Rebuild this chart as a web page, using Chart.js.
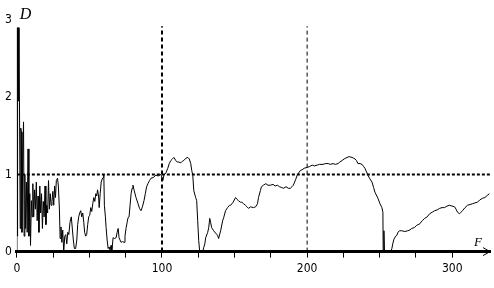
<!DOCTYPE html>
<html>
<head>
<meta charset="utf-8">
<script src="https://cdn.jsdelivr.net/npm/chart.js@4"></script>
<style>
  html, body { margin: 0; padding: 0; background: #fff; }
  #wrap { width: 494px; height: 288px; }
</style>
</head>
<body>
<div id="wrap"><canvas id="dChart" width="494" height="288"></canvas></div>
<script>
// D(F) curve as [F, D] pairs, split into stretches
const noisyStart = [
  [0,0],[0.05,2.9],[0.35,0.2],[0.5,2.9],[0.8,2.9],[1.1,1.95],[1.5,2.9],[2.0,2.9],
  [2.3,0.3],[2.7,1.6],[3.1,1.55],[3.5,0.25],[4.0,1.2],[4.6,1.68],[5.0,0.2],[5.5,1.0],
  [6.0,0.3],[6.6,0.9],[7.1,0.25],[7.7,1.33],[8.3,0.2],[8.9,0.75],[9.4,0.08],[10.0,0.66],
  [10.5,0.45],[11.0,0.88],[11.6,0.45],[12.2,0.8],[12.8,0.55],[13.4,0.9],[14.0,0.4],[14.6,0.72],
  [15.2,0.25],[15.8,0.85],[16.4,0.5],[17.0,0.75],[17.6,0.3],[18.2,0.65],[18.8,0.45],[19.4,0.85],
  [20.0,0.35],[20.6,0.6],[21.2,0.5],[21.8,0.92],[22.4,0.55],[23.0,0.75],[23.6,0.6],[24.2,0.65],
  [24.8,0.78],[25.4,0.6],[26.0,0.85],[26.6,0.7],[27.2,0.92],[28.0,0.95],[28.6,0.85],[29.3,0.55],
  [29.8,0.17]
];
const lowBumps = [
  [30.4,0.32],[31.0,0.12],[31.6,0.28],[32.3,0.0],[33.0,0.2],[33.7,0.22],[34.4,0.1],[35.1,0.25],
  [35.8,0.22],[36.6,0.38],[37.5,0.45],[38.3,0.28],[38.9,0.15],[39.6,0.04],[40.5,0.04],[41.3,0.15],
  [41.9,0.35],[42.6,0.45],[43.3,0.5],[44.0,0.53],[44.7,0.45],[45.4,0.5],[46.1,0.38],[46.7,0.25],
  [47.4,0.2],[48.1,0.22],[48.8,0.35],[49.5,0.45],[50.2,0.47],[50.9,0.57],[51.6,0.52],[52.3,0.62],
  [53.0,0.7],[53.7,0.65],[54.4,0.75],[55.0,0.72],[55.6,0.8],[56.3,0.72],[56.7,0.57],[57.4,0.75],
  [58.1,0.9],[58.8,0.94],[59.5,0.96],[59.9,1.0],[60.3,0.6],[61.0,0.45],[61.5,0.31],[62.2,0.15],
  [62.9,0.04],[63.6,0.06],[64.2,0.02],[64.9,0.08],[65.4,0.0]
];
const firstRise = [
  [66.3,0.18],[67.3,0.17],[68.4,0.18],[69.1,0.25],[69.8,0.3],[70.4,0.18],[71.1,0.15],[71.8,0.12],
  [72.8,0.13],[73.9,0.12],[74.5,0.2],[75.2,0.3],[76.0,0.38],[76.6,0.44],[77.3,0.45],[78.0,0.6],
  [78.7,0.75],[79.4,0.82],[80.0,0.86],[80.7,0.8],[82.1,0.7],[83.5,0.62],[84.5,0.56],[85.5,0.53],
  [86.5,0.58],[87.6,0.66],[88.5,0.75],[89.4,0.84],[90.3,0.88],[91.4,0.92],[92.4,0.95],[94.0,0.96],
  [95.8,0.99],[97.5,0.98],[99.2,1.0],[100.0,0.96],[100.6,0.92],[101.3,0.99],[102.7,1.02],[104.0,1.08],
  [105.0,1.14],[106.1,1.18]
];
const plateauDrop = [
  [107.2,1.2],[108.2,1.22],[109.5,1.18],[110.5,1.16],[111.6,1.16],[113.0,1.15],[114.0,1.17],[115.0,1.18],
  [116.5,1.21],[117.8,1.22],[118.8,1.2],[119.8,1.14],[120.5,1.05],[121.2,0.99],[121.9,0.79],[123.2,0.7],
  [123.9,0.66],[124.6,0.4],[125.3,0.14],[126.0,0.0],[128.1,0.0],[128.7,0.05],[129.5,0.1],[130.1,0.18],
  [131.5,0.25],[132.2,0.31],[132.9,0.43],[133.5,0.38],[134.2,0.31],[135.6,0.27],[136.9,0.24],[138.3,0.21],
  [139.0,0.17],[140.4,0.27],[141.8,0.4],[142.5,0.44],[143.8,0.53],[145.2,0.57],[146.5,0.6],[147.3,0.6],
  [149.0,0.64],[150.7,0.7],[151.5,0.68],[152.7,0.66],[154.0,0.64],[155.0,0.64],[156.2,0.62],[157.5,0.6],
  [158.6,0.58],[159.6,0.56],[161.0,0.58],[163.0,0.57],[164.5,0.58],[165.8,0.62]
];
const secondRise = [
  [166.5,0.7],[167.8,0.79],[168.5,0.84],[169.9,0.86],[171.5,0.88],[173.0,0.86],[174.7,0.86],[176.5,0.87],
  [178.0,0.85],[179.5,0.86],[181.0,0.84],[182.5,0.83],[183.6,0.82],[185.5,0.84],[187.0,0.82],[188.4,0.82],
  [189.5,0.84],[190.5,0.86],[192.0,0.93],[193.2,0.99],[194.2,1.02],[195.3,1.05],[196.5,1.06],[198.0,1.08],
  [200.0,1.09],[201.5,1.1],[203.5,1.12],[205.0,1.11],[206.9,1.12],[208.5,1.13],[211.0,1.13],[212.5,1.14],
  [214.5,1.14],[216.0,1.13],[217.9,1.14],[219.5,1.13],[221.3,1.14],[222.5,1.16],[224.1,1.18],[225.5,1.2],
  [227.5,1.22],[229.0,1.23],[230.9,1.22],[232.0,1.21],[233.0,1.2],[234.0,1.18],[235.0,1.14],[236.5,1.14],
  [237.8,1.13],[239.0,1.1],[239.8,1.08],[241.9,0.99],[243.0,0.95],[244.7,0.9],[245.8,0.83],[246.7,0.77],
  [248.8,0.69],[250.2,0.62],[251.5,0.57],[252.2,0.51],[252.4,0.0],[252.9,0.27],[253.3,0.0]
];
const tail = [
  [257.6,0.0],[258.4,0.04],[259.0,0.1],[259.8,0.16],[261.0,0.2],[261.8,0.21],[262.5,0.25],[263.8,0.27],
  [265.2,0.27],[267.3,0.26],[269.3,0.27],[270.8,0.28],[272.1,0.3],[273.8,0.31],[275.5,0.34],[277.6,0.36],
  [279.3,0.4],[281.0,0.43],[282.7,0.45],[284.4,0.49],[286.2,0.51],[287.9,0.53],[289.6,0.54],[291.3,0.56],
  [293.0,0.57],[294.7,0.57],[296.4,0.59],[298.1,0.6],[299.8,0.59],[301.6,0.58],[302.6,0.55],[303.6,0.51],
  [305.0,0.49],[306.0,0.51],[307.1,0.53],[308.8,0.57],[310.5,0.6],[312.2,0.61],[313.9,0.62],[315.6,0.63],
  [317.4,0.64],[319.0,0.67],[320.8,0.69],[322.5,0.7],[324.2,0.73],[325.6,0.75]
];

// reference lines and axis ranges
const markerF = [100, 200];      // dashed verticals
const markerTop = 2.92;
const levelD = 1;                // dotted horizontal
const fRange = [0, 326];
const dRange = [0, 3];
const fLabelEvery = 100;
const fTickStep = 25;

const tickFont = { family: '"Liberation Sans Narrow", "DejaVu Sans Condensed", "Liberation Sans", sans-serif', size: 12 };

const curve = [].concat(noisyStart, lowBumps, firstRise, plateauDrop, secondRise, tail)
  .map(p => ({ x: p[0], y: p[1] }));

// axis letters and the arrow head at the end of the F axis
const axisDecor = {
  id: 'axisDecor',
  afterDraw(chart) {
    const ctx = chart.ctx, a = chart.chartArea;
    ctx.save();
    ctx.fillStyle = '#000';
    ctx.strokeStyle = '#000';
    ctx.font = 'italic 16px "Liberation Serif", serif';
    ctx.fillText('D', a.left + 3, a.top - 1);
    ctx.font = 'italic 13px "Liberation Serif", serif';
    ctx.fillText('F', a.right - 16, a.bottom - 6);
    ctx.lineWidth = 1;
    ctx.beginPath();
    ctx.moveTo(a.right - 7, a.bottom - 4);
    ctx.lineTo(a.right, a.bottom);
    ctx.lineTo(a.right - 7, a.bottom + 4);
    ctx.stroke();
    ctx.restore();
  }
};

const datasets = [
  {
    label: 'D',
    data: curve,
    borderColor: '#000',
    borderWidth: 1,
    pointRadius: 0,
    tension: 0,
    order: 0
  },
  {
    label: 'level',
    data: [{ x: fRange[0], y: levelD }, { x: fRange[1], y: levelD }],
    borderColor: '#000',
    borderWidth: 2,
    borderDash: [3, 2],
    pointRadius: 0,
    order: 1
  }
];
markerF.forEach((f, i) => {
  datasets.push({
    label: 'F=' + f,
    data: [{ x: f, y: 0 }, { x: f, y: markerTop }],
    borderColor: '#000',
    borderWidth: i === 0 ? 2 : 1,
    borderDash: [4, 3],
    pointRadius: 0,
    order: 1
  });
});

new Chart(document.getElementById('dChart'), {
  type: 'line',
  data: { datasets },
  options: {
    responsive: false,
    animation: false,
    devicePixelRatio: 1,
    layout: { padding: { left: 0, right: 4, top: 20, bottom: 8 } },
    plugins: { legend: { display: false }, tooltip: { enabled: false } },
    scales: {
      x: {
        type: 'linear',
        min: fRange[0],
        max: fRange[1],
        afterBuildTicks: s => { s.ticks = s.ticks.filter(t => t.value % fTickStep === 0); },
        ticks: {
          stepSize: fTickStep,
          autoSkip: false,
          maxRotation: 0,
          padding: 4,
          color: '#000',
          font: tickFont,
          callback: v => (v % fLabelEvery === 0 ? String(v) : '')
        },
        grid: { display: true, drawOnChartArea: false, drawTicks: true, tickLength: 6, tickColor: '#000', tickWidth: 1, color: '#000' },
        border: { display: true, color: '#000', width: 3 }
      },
      y: {
        min: dRange[0],
        max: dRange[1],
        ticks: { stepSize: 1, padding: 5, color: '#000', font: tickFont },
        grid: { display: false, drawTicks: false },
        border: { display: false }
      }
    }
  },
  plugins: [axisDecor]
});
</script>
</body>
</html>
